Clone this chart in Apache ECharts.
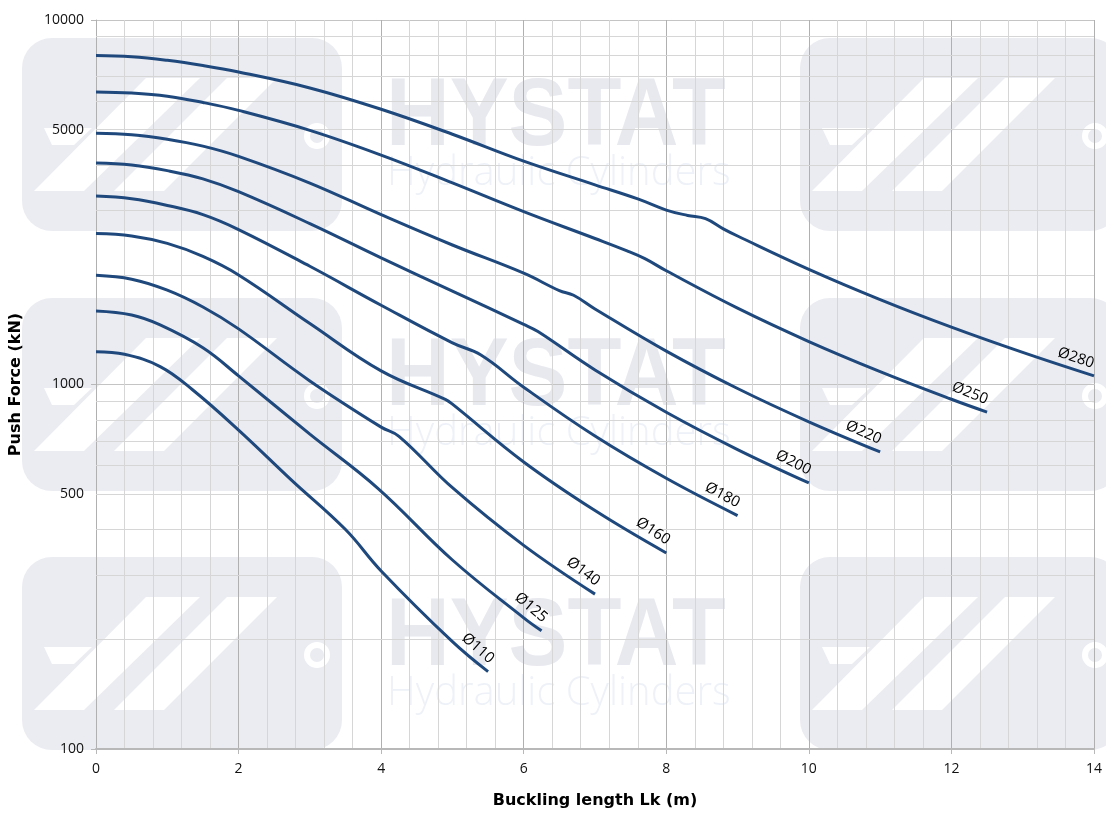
<!DOCTYPE html>
<html><head><meta charset="utf-8">
<script src="https://cdn.jsdelivr.net/npm/echarts@6/dist/echarts.min.js"></script>
<style>html,body{margin:0;padding:0;background:#fff;overflow:hidden}#c{width:1106px;height:814px}</style>
</head><body><div id="c"></div>
<script>
// ---- data (Buckling length m, Push force kN) ----
const d280 = [[0,7990],[0.5,7930],[1,7750],[1.5,7500],[2,7200],[3,6510],[4,5690],[5,4860],[6,4100],[7,3530],[7.6,3230],[8,3010],[8.3,2910],[8.55,2850],[8.8,2673],[9,2555],[10,2070],[11,1710],[12,1437],[13,1225],[14,1056]];
const d250 = [[0,6350],[0.5,6305],[1,6180],[1.5,5940],[2,5650],[3,4980],[4,4260],[5,3573],[6,2980],[7,2515],[7.45,2326],[7.7,2214],[8,2051],[9,1620],[10,1312],[11,1085],[12,911],[12.5,840]];
const d220 = [[0,4890],[0.5,4845],[1,4710],[1.5,4508],[2,4226],[3,3570],[4,2924],[5,2414],[6,2020],[6.5,1810],[6.7,1757],[7,1612],[8,1235],[9,975],[10,790],[11,653]];
const d200 = [[0,4051],[0.5,4001],[1,3861],[1.5,3665],[2,3380],[3,2763],[4,2225],[5,1804],[6,1462],[6.2,1397],[7,1096],[8,839],[9,663],[10,537]];
const d180 = [[0,3288],[0.5,3232],[1,3099],[1.5,2924],[2,2661],[3,2110],[4,1650],[5,1301],[5.4,1205],[6,983],[7,722],[8,553],[9,437]];
const d160 = [[0,2595],[0.5,2555],[1,2438],[1.5,2246],[2,1998],[3,1470],[4,1090],[4.9,910],[5,883],[6,613],[7,451],[8,345]];
const d140 = [[0,1994],[0.5,1945],[1,1815],[1.5,1632],[2,1421],[3,1023],[4,764],[4.25,721],[5,521],[6,362],[7,266]];
const d125 = [[0,1591],[0.5,1551],[0.9,1457],[1.5,1261],[2,1056],[3,731],[3.95,520],[5,330],[6,229],[6.25,211]];
const d110 = [[0,1230],[0.4,1210],[0.9,1120],[1.35,969],[2,750],[2.75,545],[3.5,400],[4,308],[5,197],[5.5,163]];

const seriesNames = ['Ø280','Ø250','Ø220','Ø200','Ø180','Ø160','Ø140','Ø125','Ø110'];
const seriesData  = [d280, d250, d220, d200, d180, d160, d140, d125, d110];
const labelAngles = [-19, -22, -24, -27, -28, -33, -37, -40, -41];

const yLabelValues = [100, 500, 1000, 5000, 10000];
const yMinorGrid = [200,300,400,500,600,700,800,900,2000,3000,4000,5000,6000,7000,8000,9000];
const xTickLabels = [0,2,4,6,8,10,12,14];

// ---- watermark ----
function logo(x, y) {
  return {
    type: 'group', x: x, y: y, z: -10, silent: true,
    children: [
      {type:'rect', z:-10, shape:{x:0,y:0,width:320,height:193,r:30}, style:{fill:'#ebecf1'}},
      {type:'polygon', z:-9, shape:{points:[[124,40],[178,40],[62,153],[12,153]]}, style:{fill:'#ffffff'}},
      {type:'polygon', z:-9, shape:{points:[[205,40],[255,40],[142,153],[92,153]]}, style:{fill:'#ffffff'}},
      {type:'polygon', z:-9, shape:{points:[[22,90],[70,90],[52,107],[30,107]]}, style:{fill:'#ffffff'}},
      {type:'circle', z:-9, shape:{cx:295,cy:98,r:10}, style:{fill:'none',stroke:'#ffffff',lineWidth:6}}
    ]
  };
}
function wmText(y) {
  return [
    {type:'text', z:-8, silent:true, x:386, y:y, scaleX:0.91,
     style:{text:'HYSTAT', font:'bold 97px "Liberation Sans", Arial, sans-serif', fill:'#e8e9ef'}},
    {type:'text', z:-8, silent:true, x:387, y:y+84, scaleX:1.0,
     style:{text:'Hydraulic Cylinders', font:'300 40px "Open Sans", sans-serif', fill:'#eef2f8'}}
  ];
}
const graphics = [];
[38, 298, 557].forEach(function(yy){ graphics.push(logo(22, yy)); graphics.push(logo(800, yy)); });
[70, 330, 590].forEach(function(yy){ wmText(yy).forEach(function(e){ graphics.push(e); }); });

const series = seriesNames.map(function(name, i) {
  const data = seriesData[i];
  const last = data[data.length - 1];
  const s = {
    name: name, type: 'line', data: data, smooth: 0.4,
    showSymbol: false, symbol: 'none', z: 3, silent: true,
    lineStyle: {color: '#1f497d', width: 3},
    markPoint: {
      symbol: 'circle', symbolSize: 0, silent: true,
      data: [{coord: last, value: name}],
      label: {show: true, position: 'inside', formatter: name, rotate: labelAngles[i],
        offset: [-23, -11], color: '#000', fontSize: 15, fontFamily: '"Open Sans", sans-serif'}
    }
  };
  if (i === 0) {
    s.markLine = {
      silent: true, symbol: 'none', z: 1, animation: false,
      lineStyle: {color: '#d6d6d6', width: 1, type: 'solid'},
      label: {show: false},
      data: yMinorGrid.map(function(v){ return {yAxis: v}; })
    };
  }
  return s;
});

const chart = echarts.init(document.getElementById('c'), null, {renderer: 'canvas', width: 1106, height: 814});
chart.setOption({
  animation: false,
  backgroundColor: '#ffffff',
  graphic: {elements: graphics},
  grid: {left: 94, top: 20, width: 1000, height: 734, containLabel: false},
  xAxis: {
    type: 'value', min: 0, max: 14, interval: 2,
    name: 'Buckling length Lk (m)', nameLocation: 'middle', nameGap: 44,
    nameTextStyle: {fontFamily: '"DejaVu Sans", sans-serif', fontWeight: 'bold', fontSize: 16, color: '#000'},
    axisLine: {show: true, lineStyle: {color: '#b8b8b8', width: 2}},
    axisTick: {show: true, length: 5, lineStyle: {color: '#b8b8b8'}},
    axisLabel: {color: '#111', fontSize: 14, fontFamily: '"Open Sans", sans-serif', margin: 13,
      customValues: xTickLabels},
    splitLine: {show: true, lineStyle: {color: '#b0b0b0', width: 1}},
    minorTick: {show: false, splitNumber: 5},
    minorSplitLine: {show: true, lineStyle: {color: '#d6d6d6', width: 1}}
  },
  yAxis: {
    type: 'log', logBase: 10, min: 100, max: 10000,
    name: 'Push Force (kN)', nameLocation: 'middle', nameGap: 72, nameRotate: 90,
    nameTextStyle: {fontFamily: '"DejaVu Sans", sans-serif', fontWeight: 'bold', fontSize: 16, color: '#000'},
    axisLine: {show: true, lineStyle: {color: '#b0b0b0', width: 1}},
    axisTick: {show: true, length: 5, lineStyle: {color: '#b8b8b8'}},
    axisLabel: {color: '#111', fontSize: 14, fontFamily: '"Open Sans", sans-serif', margin: 12,
      customValues: yLabelValues, formatter: function(v){ return String(Math.round(v)); }},
    splitLine: {show: true, lineStyle: {color: '#c4c4c4', width: 1}},
    minorSplitLine: {show: false}
  },
  series: series
});
</script>
</body></html>
